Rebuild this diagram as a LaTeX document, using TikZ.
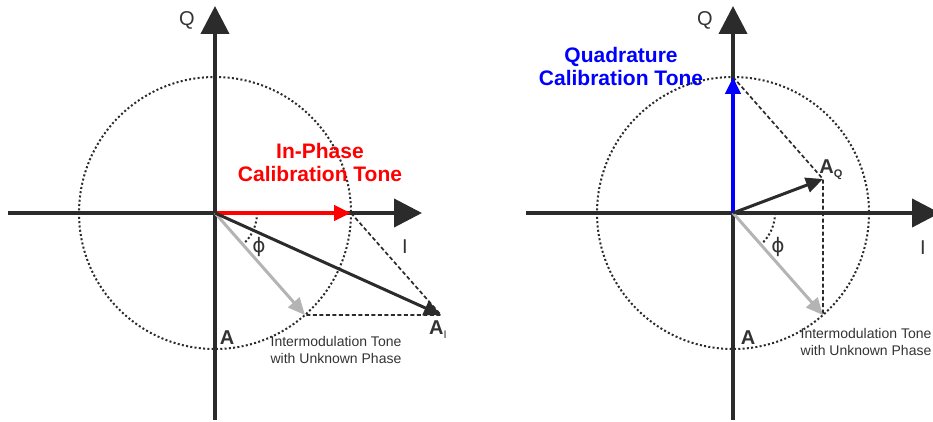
\documentclass[tikz,border=0pt]{standalone}
\usepackage{fontspec}
\setmainfont{Liberation Sans}
\newfontfamily\phifont{DejaVu Sans}
\usetikzlibrary{calc,arrows.meta}
\definecolor{axisgray}{HTML}{2B2B2B}
\definecolor{tonegray}{HTML}{B4B4B4}
\definecolor{labelgray}{HTML}{333333}

\begin{document}
\begin{tikzpicture}[x=1pt,y=-1pt,
  axis/.style={line width=4pt,draw=axisgray,-{Triangle[length=28pt,width=28pt]}},
  vec/.style={line width=3pt,-{Triangle[length=17pt,width=15pt]}},
  dotline/.style={line width=2pt,dash pattern=on 2pt off 2.3pt,draw=axisgray},
  dashline/.style={line width=1.7pt,dash pattern=on 4pt off 2.5pt,draw=axisgray},
  lbl/.style={inner sep=0pt,text=labelgray,font=\fontsize{20}{20}\selectfont},
  boldlbl/.style={lbl,font=\fontsize{20}{20}\selectfont\bfseries},
  note/.style={inner sep=0pt,text=labelgray,align=center,font=\fontsize{14}{16.5}\selectfont},
  title/.style={inner sep=0pt,align=center,font=\fontsize{21}{23}\selectfont\bfseries}]
\useasboundingbox (0,0) rectangle (933,422);
\clip (0,0) rectangle (933,422);
% left: in-phase calibration
\coordinate (O1) at (215,213);
\coordinate (L1) at ($(O1)+(-207,0)$);
\coordinate (R1end) at ($(O1)+(207,0)$);
\coordinate (D1) at ($(O1)+(0,207)$);
\coordinate (U1) at ($(O1)+(0,-207)$);
\coordinate (C1) at ($(O1)+(136,0)$);
\coordinate (G1) at ($(O1)+(48.6:136)$);
\coordinate (AI) at ($(C1)+(48.6:136)$);
\draw[dotline] (O1) circle[radius=136];
\draw[dotline] ($(O1)+(42,0)$) arc[start angle=0,end angle=48.6,radius=42];
\draw[dashline] (C1) -- (AI) -- (G1);
\draw[axis] (L1) -- (R1end);
\draw[vec,draw=red,line width=4pt] (O1) -- (C1);
\draw[axis] (D1) -- (U1);
\draw[vec,draw=tonegray] (O1) -- (G1);
\draw[vec,draw=axisgray] (O1) -- (AI);
\node[lbl] (Q1) at ($(O1)+(-28,-193)$) {Q};
\node[lbl] (I1) at ($(O1)+(190,34)$) {I};
\node[lbl] (phi1) at ($(O1)+(44,34)$) {\phifont ϕ};
\node[boldlbl] (A1) at ($(O1)+(12,125)$) {A};
\node[boldlbl] (AIlbl) at ($(AI)+(-3,15)$) {A\raisebox{-4pt}{\fontsize{11}{11}\selectfont\mdseries I}};
\node[note] (note1) at ($(O1)+(121,137)$) {Intermodulation Tone\\with Unknown Phase};
\node[title,text=red] (cal1) at ($(O1)+(105,-50.5)$) {In-Phase\\Calibration Tone};
% right: quadrature calibration
\coordinate (O2) at (733,213);
\coordinate (L2) at ($(O2)+(-207,0)$);
\coordinate (R2end) at ($(O2)+(207,0)$);
\coordinate (D2) at ($(O2)+(0,207)$);
\coordinate (U2) at ($(O2)+(0,-207)$);
\coordinate (C2) at ($(O2)+(0,-136)$);
\coordinate (G2) at ($(O2)+(48.6:136)$);
\coordinate (AQ) at ($(C2)+(48.6:136)$);
\draw[dotline] (O2) circle[radius=136];
\draw[dotline] ($(O2)+(42,0)$) arc[start angle=0,end angle=48.6,radius=42];
\draw[dashline] (C2) -- (AQ) -- (G2);
\draw[axis] (L2) -- (R2end);
\draw[axis] (D2) -- (U2);
\draw[vec,draw=blue,line width=4pt] (O2) -- (C2);
\draw[vec,draw=tonegray] (O2) -- (G2);
\draw[vec,draw=axisgray] (O2) -- (AQ);
\node[lbl] (Q2) at ($(O2)+(-28,-193)$) {Q};
\node[lbl] (I2) at ($(O2)+(190,35)$) {I};
\node[lbl] (phi2) at ($(O2)+(45,34)$) {\phifont ϕ};
\node[boldlbl] (A2) at ($(O2)+(15,125)$) {A};
\node[boldlbl] (AQlbl) at ($(AQ)+(8,-9)$) {A\raisebox{-4pt}{\fontsize{11}{11}\selectfont Q}};
\node[note] (note2) at ($(O2)+(133,129)$) {Intermodulation Tone\\with Unknown Phase};
\node[title,text=blue] (cal2) at ($(O2)+(-112,-146.5)$) {Quadrature\\Calibration Tone};
\end{tikzpicture}
\end{document}
